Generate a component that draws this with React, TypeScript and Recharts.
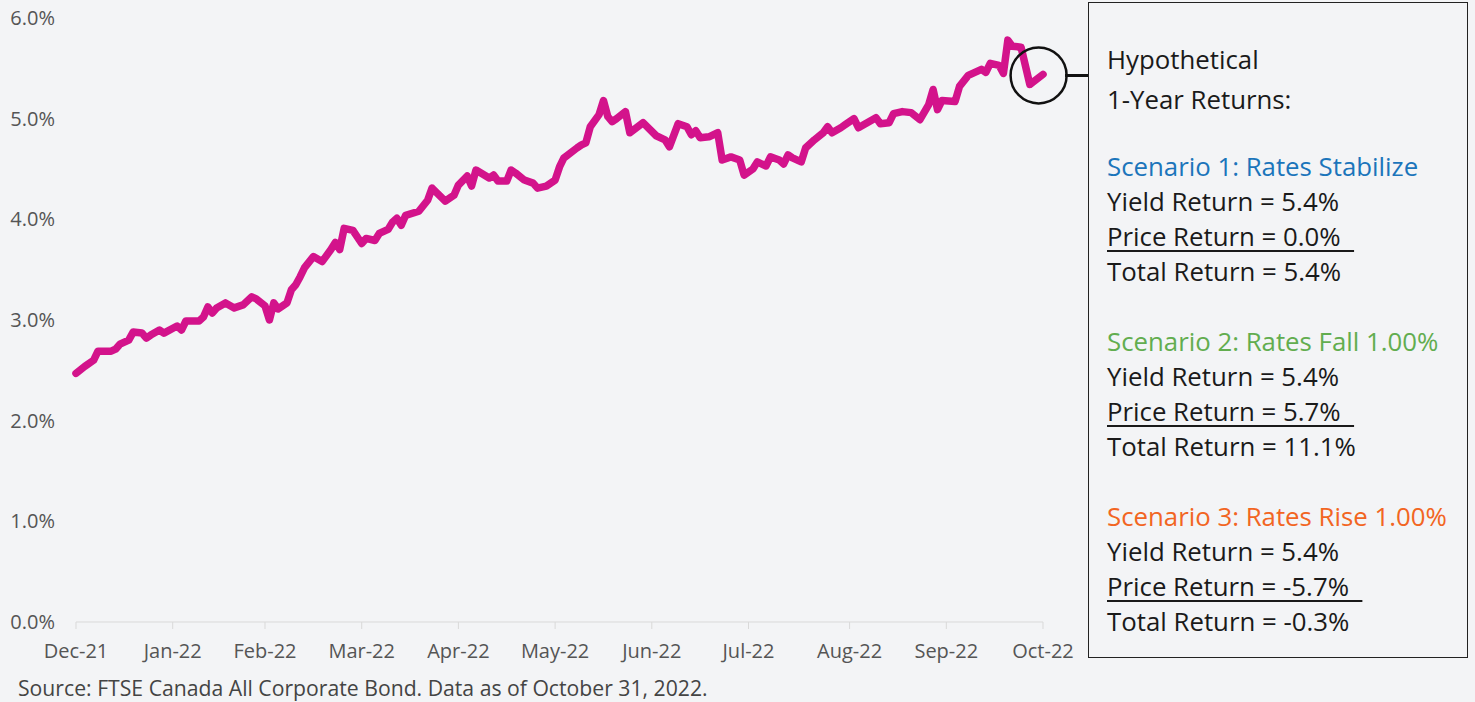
import { LineChart, Line, XAxis, YAxis, ReferenceDot } from 'recharts';

// trading-day index since Dec 1 2021, and the yield (%)
const days = [
  0, 2, 4, 5, 8, 9, 10, 12, 13, 15, 16, 17, 19, 20, 23, 24, 25, 28, 29, 30,
  31, 32, 34, 36, 38, 40, 41, 43, 44, 45, 46, 48, 49, 50, 51, 52, 54, 56, 58, 59,
  60, 61, 63, 65, 66, 68, 69, 71, 72, 73, 74, 75, 78, 80, 81, 84, 86, 87, 89, 90,
  91, 94, 95, 96, 98, 99, 100, 102, 104, 105, 107, 109, 110, 111, 114, 115, 116, 117, 119, 120,
  121, 122, 123, 125, 126, 129, 132, 134, 135, 137, 139, 140, 141, 142, 144, 146, 147, 149, 151, 152,
  154, 155, 157, 158, 160, 161, 162, 163, 165, 166, 168, 170, 171, 172, 174, 175, 177, 178, 180, 182,
  183, 185, 186, 188, 190, 192, 194, 195, 196, 197, 200, 201, 203, 206, 207, 208, 210, 211, 212, 213,
  215, 217, 220,
];
const yields = [
  2.47, 2.54, 2.6, 2.69, 2.69, 2.71, 2.76, 2.8, 2.88, 2.87, 2.82, 2.85, 2.9, 2.87, 2.94, 2.9, 2.99, 2.99, 3.03, 3.13,
  3.07, 3.12, 3.17, 3.12, 3.15, 3.23, 3.21, 3.14, 3.0, 3.17, 3.11, 3.17, 3.3, 3.35, 3.43, 3.52, 3.63, 3.58, 3.7, 3.77,
  3.7, 3.91, 3.89, 3.76, 3.81, 3.79, 3.86, 3.9, 3.97, 4.01, 3.94, 4.04, 4.08, 4.19, 4.31, 4.18, 4.24, 4.34, 4.43, 4.33,
  4.49, 4.41, 4.44, 4.38, 4.38, 4.49, 4.46, 4.39, 4.36, 4.31, 4.33, 4.39, 4.52, 4.61, 4.71, 4.74, 4.76, 4.92, 5.04, 5.18,
  5.02, 4.97, 5.0, 5.07, 4.86, 4.96, 4.83, 4.79, 4.72, 4.95, 4.92, 4.84, 4.88, 4.81, 4.82, 4.86, 4.59, 4.62, 4.59, 4.44,
  4.5, 4.57, 4.53, 4.62, 4.59, 4.55, 4.64, 4.61, 4.57, 4.71, 4.79, 4.86, 4.92, 4.86, 4.91, 4.94, 5.0, 4.91, 4.96, 5.01,
  4.95, 4.96, 5.05, 5.07, 5.06, 4.99, 5.14, 5.29, 5.09, 5.18, 5.17, 5.32, 5.43, 5.49, 5.46, 5.55, 5.53, 5.45, 5.78, 5.72,
  5.71, 5.34, 5.44,
];

const monthTicks = [0, 22, 43, 65, 87, 109, 131, 153, 176, 198, 220];
const monthLabels = ['Dec-21', 'Jan-22', 'Feb-22', 'Mar-22', 'Apr-22', 'May-22', 'Jun-22', 'Jul-22', 'Aug-22', 'Sep-22', 'Oct-22'];
const yTicks = [0, 1, 2, 3, 4, 5, 6];

const headerLines = ['Hypothetical', '1-Year Returns:'];
const scenarioTitles = ['Scenario 1: Rates Stabilize', 'Scenario 2: Rates Fall 1.00%', 'Scenario 3: Rates Rise 1.00%'];
const scenarioColors = ['#1b75bb', '#62ad4f', '#f26522'];
const yieldReturns = ['5.4%', '5.4%', '5.4%'];
const priceReturns = ['0.0%', '5.7%', '-5.7%'];
const totalReturns = ['5.4%', '11.1%', '-0.3%'];

const data = days.map((d, i) => ({ d, v: yields[i] }));

const FONT = '"Open Sans", sans-serif';
const BG = '#f3f4f6';

export default function App() {
  const line = (text: string, top: number, color = '#1a1a1a', underline = false) => (
    <div
      key={text + top}
      style={{
        position: 'absolute', left: 18, top, lineHeight: '35px', fontSize: 25.8,
        color, whiteSpace: 'pre',
        textDecoration: underline ? 'underline' : 'none',
        textUnderlineOffset: 4, textDecorationThickness: 1.5,
      }}
    >
      {text}
    </div>
  );

  return (
    <div style={{ position: 'absolute', left: 0, top: 0, width: 1475, height: 702, background: BG, fontFamily: FONT, overflow: 'hidden' }}>
      <LineChart width={1475} height={702} data={data} margin={{ top: 18, right: 432, bottom: 0, left: 0 }}>
        <XAxis
          dataKey="d"
          type="number"
          domain={[0, 220]}
          ticks={monthTicks}
          tickFormatter={(v: number) => monthLabels[monthTicks.indexOf(v)]}
          height={80}
          stroke="#d9d9d9"
          tickSize={7}
          tickMargin={15}
          tick={{ fill: '#555', fontSize: 20, fontFamily: FONT }}
          interval={0}
        />
        <YAxis
          type="number"
          domain={[0, 6]}
          ticks={yTicks}
          width={76}
          axisLine={false}
          tickLine={false}
          tickMargin={15}
          tickFormatter={(v: number) => `${v.toFixed(1)}%`}
          tick={{ fill: '#555', fontSize: 20, fontFamily: FONT }}
        />
        <Line
          dataKey="v"
          type="linear"
          stroke="#d3138b"
          strokeWidth={7.5}
          strokeLinejoin="round"
          strokeLinecap="round"
          dot={false}
          isAnimationActive={false}
        />
        <ReferenceDot x={219} y={5.43} r={28} fill="none" stroke="#111" strokeWidth={2.5} ifOverflow="visible" />
      </LineChart>

      {/* connector from circle to text box */}
      <div style={{ position: 'absolute', left: 1065, top: 74, width: 24, height: 2.5, background: '#111' }} />

      <div style={{ position: 'absolute', left: 1088, top: 2, width: 378, height: 654, border: '1.5px solid #222' }}>
        {line(headerLines[0], 39)}
        {line(headerLines[1], 79)}
        {scenarioTitles.map((t, i) => {
          const base = 146 + i * 175;
          return [
            line(t, base, scenarioColors[i]),
            line(`Yield Return = ${yieldReturns[i]}`, base + 35),
            line(`Price Return = ${priceReturns[i]}\u00a0\u00a0`, base + 70, '#1a1a1a', true),
            line(`Total Return = ${totalReturns[i]}`, base + 105),
          ];
        })}
      </div>

      <div style={{ position: 'absolute', left: 18, top: 677, fontSize: 21.2, lineHeight: '22px', color: '#444', whiteSpace: 'nowrap' }}>
        Source: FTSE Canada All Corporate Bond. Data as of October 31, 2022.
      </div>
    </div>
  );
}
